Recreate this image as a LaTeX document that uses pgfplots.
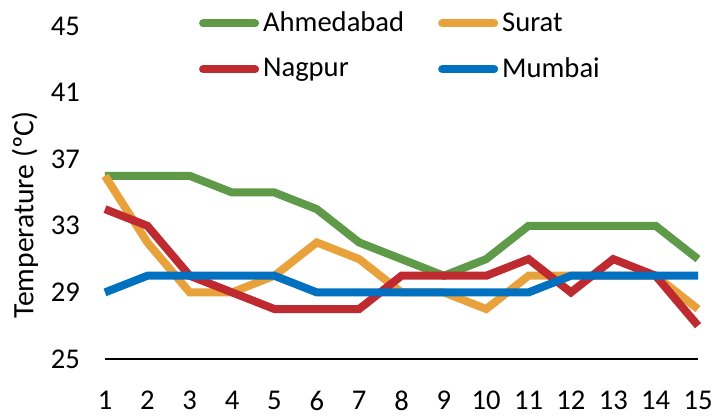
\documentclass[border=0pt]{standalone}
\usepackage{pgfplots}
\pgfplotsset{compat=1.18}
\usepackage{fontspec}
\setmainfont{Carlito}
\definecolor{cAhm}{HTML}{5E9A48}
\definecolor{cSur}{HTML}{E9A23B}
\definecolor{cNag}{HTML}{BE2A2F}
\definecolor{cMum}{HTML}{0070C0}
\begin{document}
\begin{tikzpicture}
\begin{axis}[
  name=ax,
  scale only axis,
  width=296.5bp, height=166.5bp,
  xmin=1, xmax=15, ymin=25, ymax=45,
  xtick={1,...,15}, ytick={25,29,33,37,41,45},
  axis x line*=bottom, axis y line*=left,
  x axis line style={black, line width=1bp, -},
  y axis line style={draw=none},
  major tick length=0pt,
  font=\fontsize{14.3bp}{17bp}\selectfont,
  /pgf/number format/assume math mode=true,
  ticklabel style={font=\fontsize{14.3bp}{17bp}\selectfont},
  xticklabel style={yshift=-12.5bp},
  yticklabel style={xshift=-9bp},
  ylabel={Temperature (ºC)},
  ylabel style={at={(axis description cs:-0.135,0.432)}, anchor=center, font=\fontsize{14.8bp}{17bp}\selectfont},
  clip=false,
  legend columns=2,
  legend cell align=left,
  legend style={draw=none, fill=none, at={(axis description cs:0.158,1.055)}, anchor=north west,
    inner sep=0pt, font=\fontsize{14.3bp}{17bp}\selectfont,
    /tikz/every even column/.append style={column sep=15bp},
    row sep=7.5bp},
  legend image code/.code={\draw[line width=4bp, line cap=round] (0bp,0bp) -- (26bp,0bp);},
  every axis plot/.append style={line width=4bp, line join=miter},
]
\addplot[cAhm, no marks] coordinates {(1,36)(2,36)(3,36)(4,35)(5,35)(6,34)(7,32)(8,31)(9,30)(10,31)(11,33)(12,33)(13,33)(14,33)(15,31)};
\addlegendentry{Ahmedabad}
\addplot[cSur, no marks] coordinates {(1,36)(2,32)(3,29)(4,29)(5,30)(6,32)(7,31)(8,29)(9,29)(10,28)(11,30)(12,30)(13,30)(14,30)(15,28)};
\addlegendentry{Surat}
\addplot[cNag, no marks] coordinates {(1,34)(2,33)(3,30)(4,29)(5,28)(6,28)(7,28)(8,30)(9,30)(10,30)(11,31)(12,29)(13,31)(14,30)(15,27)};
\addlegendentry{Nagpur}
\addplot[cMum, no marks] coordinates {(1,29)(2,30)(3,30)(4,30)(5,30)(6,29)(7,29)(8,29)(9,29)(10,29)(11,29)(12,30)(13,30)(14,30)(15,30)};
\addlegendentry{Mumbai}
\end{axis}
\path (ax.south west) ++(-52.5bp,-24bp) rectangle ++(363.5bp,203.5bp);
\end{tikzpicture}
\end{document}
